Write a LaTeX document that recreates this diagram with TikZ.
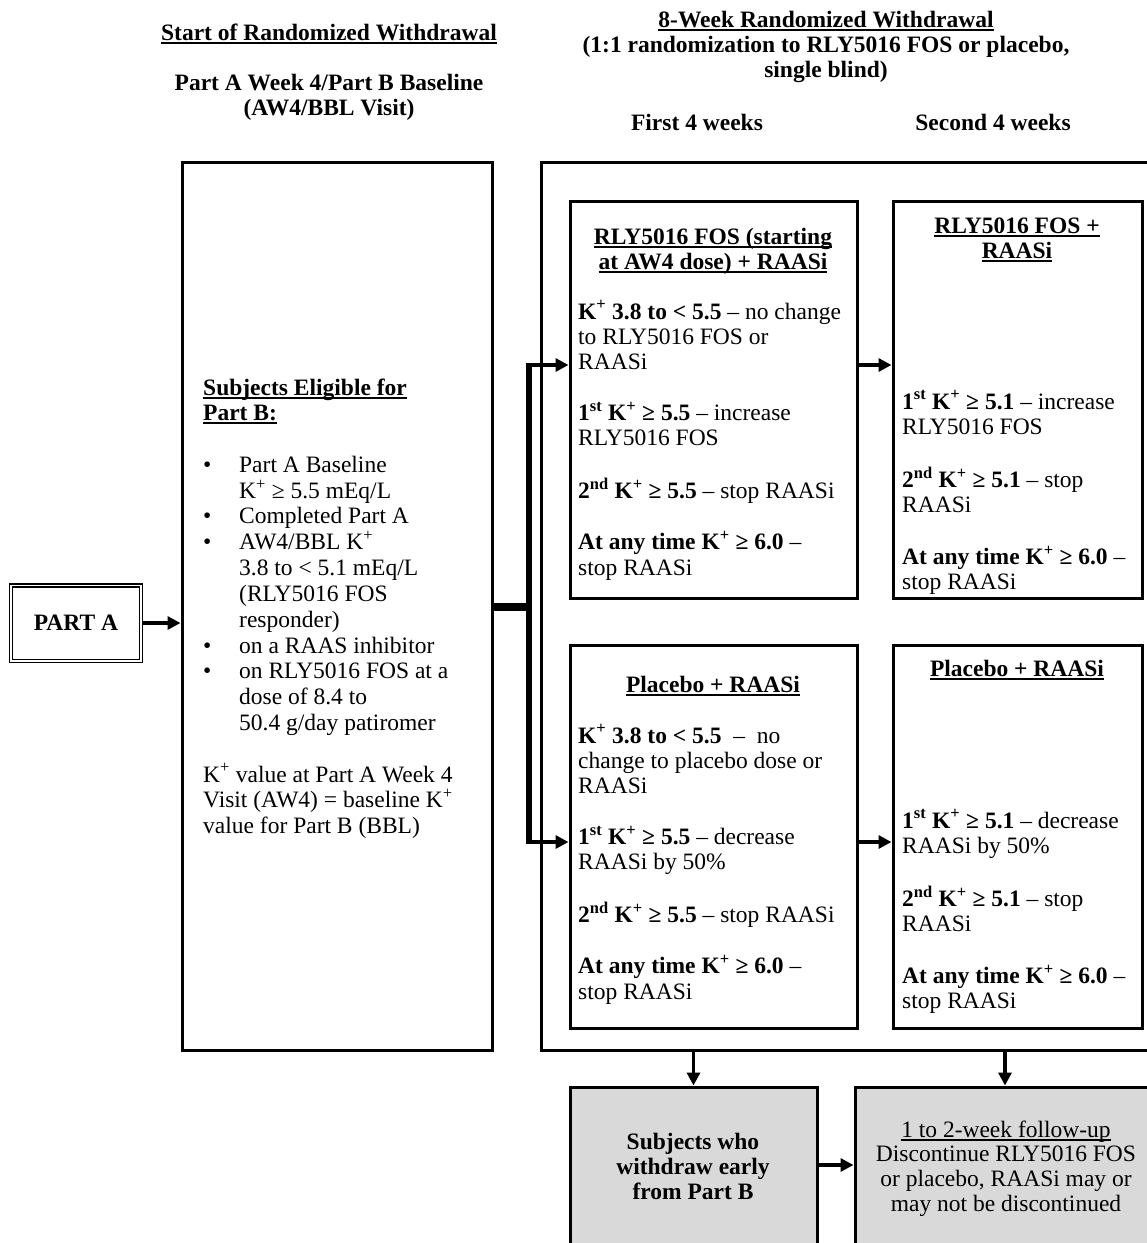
\documentclass[tikz,border=0pt]{standalone}
\usepackage{fontspec}
\setmainfont{Liberation Serif}
\usetikzlibrary{arrows.meta,calc}
\definecolor{gbox}{HTML}{D9D9D9}
\newcommand{\Kp}{K\textsuperscript{+}}
\newcommand{\ordst}{\textsuperscript{st}}
\newcommand{\ordnd}{\textsuperscript{nd}}
\newcommand{\myul}[1]{\setbox0=\hbox{#1}\rlap{\rule[-3.5pt]{\wd0}{1.4pt}}\box0}
\newcommand{\fs}{\fontsize{23.5}{25.2}\selectfont}
\newcommand{\bul}{\makebox[36pt][l]{\textbullet}}
\newcommand{\ind}{\hspace*{36pt}}
\begin{document}
\begin{tikzpicture}[x=1pt,y=-1pt,
  box/.style={draw, line width=3pt, inner sep=0},
  txt/.style={inner sep=0, anchor=base west, font=\fs},
  ctr/.style={inner sep=0, anchor=base, font=\fs\bfseries},
  arr/.style={line width=3.5pt, -{Triangle[length=13pt,width=13pt]}},
]
\useasboundingbox (0,0) rectangle (1147,1243);
\clip (0,0) rectangle (1147,1243);
\fill[white] (0,0) rectangle (1147,1243);

% headers
\node[ctr] (h1) at (329,40) {\myul{Start of Randomized Withdrawal}};
\node[ctr] (h2) at (329,90) {\begin{tabular}[t]{@{}c@{}}Part A Week 4/Part B Baseline\\(AW4/BBL Visit)\end{tabular}};
\node[ctr] (h3) at (826,27) {\begin{tabular}[t]{@{}c@{}}\myul{8-Week Randomized Withdrawal}\\(1:1 randomization to RLY5016 FOS or placebo,\\single blind)\end{tabular}};
\node[ctr] (h4) at (697,130) {First 4 weeks};
\node[ctr] (h5) at (993,130) {Second 4 weeks};

% boxes
\node[draw, double, line width=1.5pt, double distance=1.5pt, minimum width=130pt, minimum height=75.5pt, font=\fs\bfseries] (pa) at (76,623) {PART A};
\node[box, minimum width=310pt, minimum height=888pt] (left) at (337,606) {};
\node[box, minimum width=624pt, minimum height=888pt] (outer) at (853,606) {};
\node[box, minimum width=287pt, minimum height=397pt] (tm) at (713.5,399.5) {};
\node[box, minimum width=249pt, minimum height=397pt] (tr) at (1017.5,399.5) {};
\node[box, minimum width=287pt, minimum height=383pt] (bm) at (713.5,836.5) {};
\node[box, minimum width=249pt, minimum height=383pt] (br) at (1017.5,836.5) {};
\node[box, fill=gbox, minimum width=247pt, minimum height=203pt] (gl) at (693.5,1188.5) {};
\node[box, fill=gbox, minimum width=300pt, minimum height=203pt] (gr) at (1005,1188.5) {};

% left box text
\node[txt, font=\fs\bfseries] (lt) at (203,395) {\begin{tabular}[t]{@{}l@{}}\myul{Subjects Eligible for}\\\myul{Part B:}\end{tabular}};
\node[txt, font=\fontsize{23.5}{25.8}\selectfont] (lb) at (203,472) {\begin{tabular}[t]{@{}l@{}}
\bul Part A Baseline\\
\ind\Kp{} ≥ 5.5 mEq/L\\
\bul Completed Part A\\
\bul AW4/BBL \Kp\\
\ind 3.8 to < 5.1 mEq/L\\
\ind (RLY5016 FOS\\
\ind responder)\\
\bul on a RAAS inhibitor\\
\bul on RLY5016 FOS at a\\
\ind dose of 8.4 to\\
\ind 50.4 g/day patiromer\end{tabular}};
\node[txt] (lk) at (203,782) {\begin{tabular}[t]{@{}l@{}}\Kp{} value at Part A Week 4\\Visit (AW4) = baseline \Kp\\value for Part B (BBL)\end{tabular}};

% top middle
\node[ctr] (tmt) at (713,244) {\begin{tabular}[t]{@{}c@{}}\myul{RLY5016 FOS (starting}\\\myul{at AW4 dose) + RAASi}\end{tabular}};
\node[txt] (tmb) at (578,319) {\begin{tabular}[t]{@{}l@{}}
\textbf{\Kp{} 3.8 to < 5.5} – no change\\
to RLY5016 FOS or\\
RAASi\\
\\
\textbf{1\ordst{} \Kp{} ≥ 5.5} – increase\\
RLY5016 FOS\\
\\
\textbf{2\ordnd{} \Kp{} ≥ 5.5} – stop RAASi\\
\\
\textbf{At any time \Kp{} ≥ 6.0} –\\
stop RAASi\end{tabular}};

% top right
\node[ctr] (trt) at (1017,233) {\begin{tabular}[t]{@{}c@{}}\myul{RLY5016 FOS +}\\\myul{RAASi}\end{tabular}};
\node[txt, font=\fontsize{23.5}{25.3}\selectfont] (trb) at (902,409) {\begin{tabular}[t]{@{}l@{}}
\textbf{1\ordst{} \Kp{} ≥ 5.1} – increase\\
RLY5016 FOS\\
\\
\textbf{2\ordnd{} \Kp{} ≥ 5.1} – stop\\
RAASi\\
\\
\textbf{At any time \Kp{} ≥ 6.0} –\\
stop RAASi\end{tabular}};

% bottom middle
\node[ctr] (bmt) at (713,692) {\myul{Placebo + RAASi}};
\node[txt] (bmb) at (578,743) {\begin{tabular}[t]{@{}l@{}}
\textbf{\Kp{} 3.8 to < 5.5} \ – \ no\\
change to placebo dose or\\
RAASi\\
\\
\textbf{1\ordst{} \Kp{} ≥ 5.5} – decrease\\
RAASi by 50\%\\
\\
\textbf{2\ordnd{} \Kp{} ≥ 5.5} – stop RAASi\\
\\
\textbf{At any time \Kp{} ≥ 6.0} –\\
stop RAASi\end{tabular}};

% bottom right
\node[ctr] (brt) at (1017,676) {\myul{Placebo + RAASi}};
\node[txt, font=\fontsize{23.5}{25.3}\selectfont] (brb) at (902,828) {\begin{tabular}[t]{@{}l@{}}
\textbf{1\ordst{} \Kp{} ≥ 5.1} – decrease\\
RAASi by 50\%\\
\\
\textbf{2\ordnd{} \Kp{} ≥ 5.1} – stop\\
RAASi\\
\\
\textbf{At any time \Kp{} ≥ 6.0} –\\
stop RAASi\end{tabular}};

% gray boxes text
\node[ctr, font=\fontsize{23.5}{25.4}\selectfont\bfseries] (glt) at (693,1149) {\begin{tabular}[t]{@{}c@{}}Subjects who\\withdraw early\\from Part B\end{tabular}};
\node[ctr, font=\fontsize{23.5}{24.8}\selectfont] (grt) at (1006,1137) {\begin{tabular}[t]{@{}c@{}}\myul{1 to 2-week follow-up}\\Discontinue RLY5016 FOS\\or placebo, RAASi may or\\may not be discontinued\end{tabular}};

% connectors
\coordinate (jx) at (529,607);
\coordinate (ya) at (0,365);
\coordinate (yb) at (0,842);
\coordinate (yc) at (0,1165);
\draw[arr] (pa.east) -- (left.west |- pa.east);
\draw[line width=8pt] (left.east |- jx) -- (jx);
\draw[line width=5.5pt] ($(jx |- ya)+(0,-2)$) -- ($(jx |- yb)+(0,2)$);
\draw[arr] (jx |- ya) -- (tm.west |- ya);
\draw[arr] (jx |- yb) -- (bm.west |- yb);
\draw[arr] (tm.east |- ya) -- (tr.west |- ya);
\draw[arr] (bm.east |- yb) -- (br.west |- yb);
\draw[arr] (outer.south -| gl.north) -- (gl.north);
\draw[arr] (outer.south -| gr.north) -- (gr.north);
\draw[arr] (gl.east |- yc) -- (gr.west |- yc);
\end{tikzpicture}
\end{document}
